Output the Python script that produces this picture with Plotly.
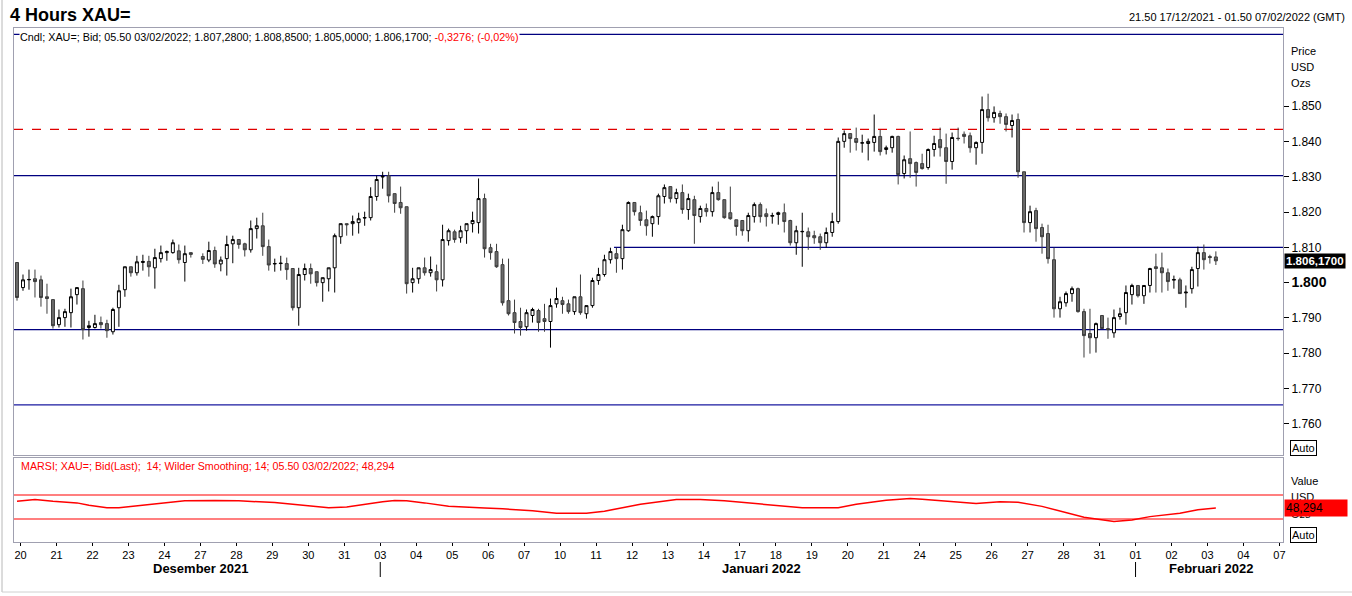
import plotly.graph_objects as go

# ---------------- data ----------------
opens = [1805.7,1798.6,1800.8,1801.1,1800.8,1796.0,1795.2,1788.1,1790.1,1791.5,
         1796.6,1798.3,1787.3,1787.3,1788.7,1788.4,1786.1,1792.9,1798.0,1804.5,
         1802.8,1805.7,1806.0,1804.2,1806.8,1808.5,1808.5,1809.0,1805.7,1808.5,
         1807.4,1806.4,1809.1,1805.3,1806.8,1811.0,1812.2,1811.0,1809.3,1815.3,
         1816.1,1810.2,1805.3,1805.4,1805.4,1804.0,1792.9,1802.3,1804.0,1803.1,
         1800.0,1801.1,1804.2,1813.0,1816.7,1816.7,1817.0,1818.3,1818.4,1824.4,
         1829.9,1830.3,1825.2,1822.7,1821.5,1800.0,1801.1,1804.2,1802.8,1803.1,
         1800.8,1811.9,1814.4,1812.7,1814.7,1816.7,1817.0,1823.8,1809.9,1808.8,
         1805.1,1794.9,1791.5,1789.0,1787.5,1790.7,1792.1,1789.8,1789.0,1794.0,
         1794.9,1794.0,1791.8,1796.0,1791.2,1793.5,1800.6,1802.3,1806.5,1808.2,
         1806.8,1814.7,1822.7,1819.8,1817.8,1816.7,1818.7,1824.4,1827.2,1823.8,
         1825.5,1820.7,1823.5,1818.7,1821.0,1820.1,1825.5,1823.5,1819.8,1817.8,
         1817.6,1814.7,1818.7,1822.1,1819.5,1818.8,1819.3,1819.8,1817.6,1811.3,
         1814.4,1814.4,1813.3,1813.0,1811.3,1814.2,1817.3,1840.0,1842.2,1840.8,
         1839.5,1839.4,1839.7,1841.4,1837.7,1838.2,1841.4,1830.9,1835.1,1834.0,
         1833.7,1832.6,1837.7,1840.5,1838.2,1834.3,1840.9,1842.0,1841.6,1838.2,
         1839.7,1849.0,1846.7,1847.9,1847.0,1844.5,1846.2,1831.4,1817.0,1820.4,
         1815.6,1813.9,1806.5,1792.6,1794.3,1796.9,1798.3,1791.8,1785.6,1784.4,
         1790.7,1787.0,1785.8,1790.4,1791.5,1796.6,1799.2,1796.3,1799.2,1804.5,
         1804.2,1802.8,1800.7,1800.8,1797.1,1798.3,1804.0,1808.5,1807.4,1807.28]
highs = [1805.7,1802.3,1803.7,1803.7,1802.0,1799.7,1795.2,1792.4,1792.6,1798.3,
         1798.6,1800.6,1789.2,1790.9,1790.4,1789.5,1792.9,1799.4,1804.5,1804.5,
         1807.6,1807.9,1807.6,1809.6,1810.5,1809.1,1812.2,1810.8,1810.5,1808.5,
         1808.3,1811.6,1810.2,1807.4,1813.3,1813.3,1812.2,1811.3,1817.6,1818.4,
         1819.8,1812.2,1806.8,1807.6,1807.1,1804.0,1804.2,1805.4,1805.4,1803.1,
         1801.4,1804.2,1813.9,1816.7,1816.7,1819.0,1819.8,1820.1,1827.0,1830.3,
         1831.4,1831.4,1825.2,1827.2,1821.5,1804.2,1804.2,1807.1,1807.4,1805.1,
         1816.4,1815.3,1815.0,1816.1,1816.7,1820.1,1829.5,1825.2,1811.0,1811.0,
         1806.8,1806.8,1795.2,1792.9,1792.4,1792.9,1792.6,1794.0,1795.5,1798.6,
         1796.0,1795.2,1796.0,1802.3,1793.5,1801.4,1804.2,1807.9,1809.9,1809.9,
         1816.4,1823.0,1822.7,1821.8,1820.4,1819.0,1825.2,1827.8,1827.2,1826.6,
         1827.8,1825.2,1824.6,1821.8,1822.4,1827.2,1828.6,1823.5,1827.2,1817.8,
         1817.6,1819.8,1822.7,1822.7,1821.0,1819.8,1820.1,1822.4,1817.8,1816.1,
         1819.8,1815.6,1814.7,1813.9,1815.6,1819.8,1841.1,1843.1,1842.2,1843.9,
         1841.9,1840.8,1847.6,1843.3,1838.8,1841.6,1841.6,1836.0,1842.8,1834.3,
         1836.5,1838.0,1841.6,1843.9,1842.2,1842.5,1843.9,1842.8,1842.5,1840.0,
         1852.7,1853.5,1849.9,1848.7,1847.9,1847.6,1847.9,1831.4,1821.8,1821.2,
         1816.7,1816.4,1809.9,1796.0,1797.5,1798.9,1798.6,1792.6,1792.6,1788.7,
         1790.7,1790.1,1792.4,1792.9,1799.2,1799.7,1799.2,1799.2,1804.2,1808.2,
         1808.5,1804.0,1802.0,1801.4,1799.2,1804.5,1810.2,1810.8,1807.9,1808.85]
lows = [1794.9,1797.7,1798.0,1795.8,1793.2,1791.2,1787.0,1787.3,1787.5,1787.3,
        1793.8,1783.9,1784.7,1787.0,1787.0,1784.4,1785.3,1787.5,1796.0,1801.7,
        1802.0,1803.4,1801.7,1798.3,1805.7,1806.2,1808.2,1805.4,1800.3,1807.1,
        1805.3,1805.8,1804.2,1803.2,1802.0,1805.5,1809.6,1807.4,1808.5,1812.5,
        1807.6,1803.4,1803.1,1803.4,1800.8,1792.1,1787.8,1800.6,1799.7,1798.9,
        1794.6,1797.5,1797.2,1811.0,1813.3,1813.3,1813.9,1816.1,1817.6,1823.2,
        1826.6,1822.7,1819.8,1819.5,1796.9,1797.2,1799.7,1802.0,1801.7,1797.5,
        1798.9,1810.5,1811.3,1811.3,1811.0,1814.2,1813.9,1807.1,1806.5,1804.2,
        1793.5,1790.7,1785.6,1785.0,1786.4,1788.7,1786.1,1786.1,1781.6,1792.9,
        1791.2,1791.2,1790.9,1790.9,1789.8,1792.9,1799.4,1801.7,1805.4,1802.8,
        1803.7,1814.4,1819.0,1816.1,1813.3,1813.0,1816.4,1822.4,1822.7,1822.4,
        1819.5,1817.8,1811.0,1817.0,1818.7,1818.7,1823.2,1818.1,1817.8,1813.3,
        1813.3,1811.6,1817.0,1817.0,1815.9,1816.7,1816.4,1814.2,1810.5,1807.9,
        1804.5,1809.3,1811.0,1809.3,1809.9,1813.0,1816.7,1838.2,1836.8,1837.4,
        1836.8,1834.6,1837.1,1836.0,1836.3,1836.8,1827.8,1829.5,1829.7,1827.2,
        1832.0,1832.0,1835.7,1835.7,1828.0,1832.0,1840.2,1839.4,1836.8,1833.4,
        1836.5,1845.6,1845.3,1845.0,1842.8,1841.1,1829.7,1814.2,1814.2,1811.6,
        1808.2,1805.4,1790.1,1790.1,1793.2,1794.6,1791.5,1778.8,1779.9,1780.2,
        1787.0,1784.1,1784.4,1789.5,1788.1,1793.8,1795.8,1794.0,1797.2,1797.2,
        1797.2,1797.7,1798.3,1796.9,1792.9,1796.9,1798.9,1803.7,1805.4,1805.00]
closes = [1795.8,1800.8,1800.9,1800.3,1795.8,1795.5,1787.8,1790.1,1791.8,1796.0,
          1798.6,1786.7,1787.8,1788.4,1788.1,1786.4,1792.4,1797.7,1804.5,1802.8,
          1805.9,1806.0,1804.5,1807.1,1808.5,1808.8,1811.3,1806.5,1808.2,1808.0,
          1806.6,1809.1,1805.3,1806.4,1810.8,1812.2,1810.8,1809.3,1815.3,1816.1,
          1810.2,1805.0,1805.4,1805.5,1803.7,1792.9,1802.3,1804.0,1802.5,1800.0,
          1801.4,1804.2,1813.3,1816.7,1816.4,1817.3,1818.1,1818.4,1824.4,1829.2,
          1830.1,1824.6,1822.4,1821.2,1799.7,1801.1,1804.2,1802.8,1803.7,1800.8,
          1812.2,1814.7,1812.2,1814.7,1816.7,1817.6,1823.8,1809.6,1808.5,1804.5,
          1794.3,1791.2,1788.7,1787.3,1791.5,1792.4,1788.7,1789.0,1793.5,1795.5,
          1793.8,1791.8,1796.0,1791.5,1793.5,1800.6,1802.3,1806.5,1808.8,1806.8,
          1815.0,1822.7,1820.1,1817.6,1816.1,1818.7,1824.6,1826.9,1823.8,1825.5,
          1820.7,1823.8,1819.0,1821.0,1820.1,1825.5,1823.5,1818.4,1818.1,1815.9,
          1814.7,1819.0,1822.1,1818.7,1818.7,1819.0,1819.8,1817.3,1811.3,1814.7,
          1814.5,1813.0,1812.7,1811.3,1814.2,1817.3,1840.0,1842.2,1840.8,1839.7,
          1839.6,1840.0,1841.4,1837.1,1838.2,1841.4,1830.6,1834.8,1833.7,1831.2,
          1832.3,1837.7,1839.4,1838.2,1834.3,1841.1,1840.8,1841.4,1838.2,1839.7,
          1849.0,1846.7,1848.2,1847.0,1844.8,1845.9,1831.4,1817.0,1820.1,1815.3,
          1813.0,1806.8,1792.6,1794.6,1796.9,1798.3,1791.8,1785.0,1784.4,1788.4,
          1787.0,1786.7,1790.1,1791.2,1797.2,1799.2,1796.3,1799.2,1804.0,1804.0,
          1802.8,1800.3,1800.9,1796.9,1797.3,1803.7,1808.5,1806.5,1807.1,1806.17]
missing_slot = 30          # one 4h bar absent in the feed (holiday)
bars_per_day = 6

# RSI (MARSI 14) read at sample bars
rsi_bar = [0,3,6,10,12,15,17,20,23,26,28,33,37,43,46,49,52,55,58,61,63,65,68,72,
           78,81,86,90,95,98,101,104,110,114,118,122,126,131,137,140,145,149,151,
           156,160,164,167,171,175,178,183,186,189,194,197,200]
rsi_val = [59.7,62.6,59.7,56.9,52.9,48.9,48.9,51.7,54.6,57.4,60.3,60.9,60.3,57.4,
           54.6,51.1,48.9,50.0,54.6,58.6,60.9,60.3,56.9,51.1,48.3,47.1,43.7,39.7,
           39.7,43.1,48.9,54.6,62.6,62.6,60.3,56.9,54.0,48.9,48.9,54.6,61.4,64.3,
           63.1,58.6,55.7,58.6,58.0,51.1,41.4,32.9,26.0,28.3,34.0,39.7,45.4,48.3]
rsi_levels = [70, 30]

# x-axis day labels (trading-day index, label)
day_index = list(range(36))
day_labels = ["20","21","22","23","24","27","28","29","30","31",
              "03","04","05","06","07","10","11","12","13","14",
              "17","18","19","20","21","24","25","26","27","28",
              "31","01","02","03","04","07"]
months = [("Desember 2021", 5.0), ("Januari 2022", 20.6), ("Februari 2022", 33.1)]
month_breaks = [10, 31]

price_ticks = [1760, 1770, 1780, 1790, 1800, 1810, 1820, 1830, 1840, 1850]
# horizontal drawing lines: (price, start trading-day, dash, colour)
hlines = [(1870.3, None, "solid", "#000080"),
          (1843.4, None, "dash", "#e00000"),
          (1830.3, None, "solid", "#000080"),
          (1810.0, 16.6, "solid", "#000080"),
          (1786.7, None, "solid", "#000080"),
          (1765.4, None, "solid", "#1a1aa0")]
last_price_text = "1.806,1700"
last_rsi_text = "48,294"

# ---------------- figure ----------------
FONT = "Liberation Sans, Arial, sans-serif"
W, H = 1352, 596
L, R, T, B = 14, 1283, 28, 542
XMIN, XMAX = -0.5, 211.2
GRID = "#a0a0b0"

def px(x):
    return (x - L) / (R - L)

def py(y):
    return (B - y) / (B - T)

slots = [i for i in range(len(opens) + 1) if i != missing_slot]

fig = go.Figure()
fig.add_trace(go.Candlestick(
    x=slots, open=opens, high=highs, low=lows, close=closes,
    increasing=dict(line=dict(color="black", width=1), fillcolor="white"),
    decreasing=dict(line=dict(color="#3c3c3c", width=1), fillcolor="#6a6a6a"),
    whiskerwidth=0, hoverinfo="skip", showlegend=False,
    xaxis="x", yaxis="y"))

fig.add_trace(go.Scatter(
    x=rsi_bar, y=rsi_val, mode="lines", line=dict(color="#ff0000", width=1.5),
    hoverinfo="skip", showlegend=False, xaxis="x2", yaxis="y2"))

shapes = []
for price, start_day, dash, col in hlines:
    x0 = XMIN if start_day is None else start_day * bars_per_day
    shapes.append(dict(type="line", xref="x", yref="y", x0=x0, x1=XMAX,
                       y0=price, y1=price, layer="below",
                       line=dict(color=col, width=1.2, dash=dash)))
for lv in rsi_levels:
    shapes.append(dict(type="line", xref="x2", yref="y2", x0=XMIN, x1=XMAX,
                       y0=lv, y1=lv, line=dict(color="#ff0000", width=1.2)))
for mb in month_breaks:
    xb = mb * bars_per_day + 0.6
    shapes.append(dict(type="line", xref="x2", yref="paper", x0=xb, x1=xb,
                       y0=py(562), y1=py(577), line=dict(color="black", width=1)))
# outer window edges
shapes.append(dict(type="line", xref="paper", yref="paper", x0=px(2), x1=px(2),
                   y0=py(0), y1=py(592), line=dict(color="#b8b8b8", width=1)))
shapes.append(dict(type="line", xref="paper", yref="paper", x0=px(2), x1=px(1352),
                   y0=py(592), y1=py(592), line=dict(color="#d0d0d0", width=1)))

ann = []
def text(x, y, s, size=11, color="black", anchor="left", bold=False, **kw):
    ann.append(dict(xref="paper", yref="paper", x=px(x), y=py(y), text=("<b>%s</b>" % s) if bold else s,
                    showarrow=False, xanchor=anchor, yanchor="middle",
                    font=dict(family=FONT, size=size, color=color), **kw))

text(8, 15, "4 Hours XAU=", size=18, bold=True)
text(1347, 17, "21.50 17/12/2021 - 01.50 07/02/2022 (GMT)", size=11, anchor="right")
text(19, 37, "Cndl; XAU=; Bid; 05.50 03/02/2022; 1.807,2800; 1.808,8500; 1.805,0000; 1.806,1700; "
     "<span style='color:#ff0000'>-0,3276; (-0,02%)</span>", size=10.8,
     bgcolor="white", borderpad=0)
text(1289, 51, "Price")
text(1289, 67, "USD")
text(1289, 83, "Ozs")
text(1284, 261, last_price_text, size=11.5, color="white", bold=True, bgcolor="black", borderpad=1)
text(1290, 448, "Auto", size=11, bordercolor="black", borderwidth=1, borderpad=1)
text(19, 466, "MARSI; XAU=; Bid(Last);  14; Wilder Smoothing; 14; 05.50 03/02/2022; 48,294",
     size=10.7, color="#ff0000")
text(1289, 481, "Value")
text(1289, 497, "USD")
text(1289, 514, "Ozs")
text(1284, 508, last_rsi_text, size=12, color="black", bgcolor="#ff0000", borderpad=1, width=60, align="left")
text(1290, 535, "Auto", size=11, bordercolor="black", borderwidth=1, borderpad=1)
for name, dpos in months:
    ann.append(dict(xref="x2", yref="paper", x=dpos * bars_per_day + 0.6, y=py(568),
                    text="<b>%s</b>" % name, showarrow=False, xanchor="center",
                    yanchor="middle", font=dict(family=FONT, size=13, color="black")))

tick_text = []
for p in price_ticks:
    s = "{:,}".format(p).replace(",", ".")
    if p == 1800:
        s = "<b><span style='font-size:14px'>%s</span></b>" % s
    tick_text.append(s)

main_bottom = py(455)
rsi_top = py(458)

fig.update_layout(
    width=W, height=H,
    margin=dict(l=L, r=W - R, t=T, b=H - B, pad=0),
    paper_bgcolor="white", plot_bgcolor="white",
    font=dict(family=FONT, size=11, color="black"),
    showlegend=False, hovermode=False,
    shapes=shapes, annotations=ann,
    xaxis=dict(domain=[0, 1], range=[XMIN, XMAX], anchor="y",
               showticklabels=False, showgrid=False, zeroline=False,
               showline=True, mirror=True, linecolor=GRID, linewidth=1,
               rangeslider=dict(visible=False), ticks=""),
    yaxis=dict(domain=[main_bottom, 1], range=[1751.2, 1872.1], side="right",
               anchor="x", tickvals=price_ticks, ticktext=tick_text,
               ticks="outside", ticklen=5, tickcolor="black",
               showgrid=False, zeroline=False, showline=True, mirror=True,
               linecolor=GRID, linewidth=1,
               tickfont=dict(family=FONT, size=12, color="black")),
    xaxis2=dict(domain=[0, 1], range=[XMIN, XMAX], anchor="y2",
                tickvals=[d * bars_per_day + 0.6 for d in day_index], ticktext=day_labels,
                ticks="outside", ticklen=3, tickcolor="black",
                tickfont=dict(family=FONT, size=11, color="black"),
                showgrid=False, zeroline=False, showline=True, mirror=True,
                linecolor=GRID, linewidth=1),
    yaxis2=dict(domain=[0, rsi_top], range=[-8.3, 131.7], side="right", anchor="x2",
                showticklabels=False, ticks="", showgrid=False, zeroline=False,
                showline=True, mirror=True, linecolor=GRID, linewidth=1),
)

fig.write_html("out.html", config={"displayModeBar": False},
               post_script="document.body.style.margin='0px';")
